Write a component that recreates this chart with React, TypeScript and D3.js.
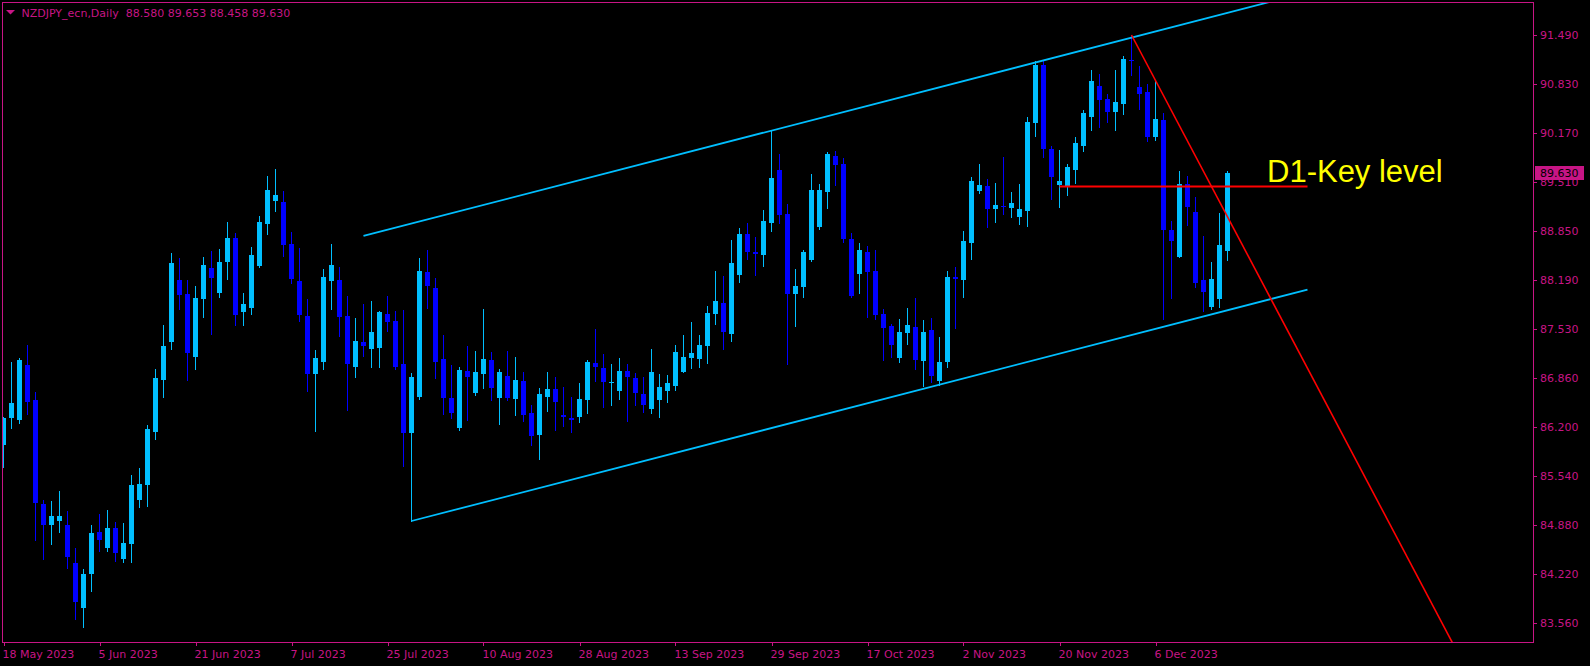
import React from "react";
import * as d3 from "d3";

// ---- DATA (NZDJPY daily, bar index 0 = 18 May 2023) ----
const opens = [85.964,86.332,86.301,87.042,86.570,85.169,84.886,84.939,84.886,84.373,83.767,84.225,84.791,84.576,84.845,84.427,84.629,85.223,85.425,86.139,86.840,87.352,88.188,87.999,87.150,87.932,88.350,88.013,88.431,88.754,87.757,87.815,88.377,88.947,89.257,89.239,88.673,88.174,87.703,86.925,87.087,88.178,88.188,87.703,87.019,87.352,87.262,87.275,87.730,87.635,87.056,86.130,86.611,88.296,88.080,87.123,86.597,86.197,86.961,86.669,86.925,87.110,86.601,86.894,86.588,86.827,86.395,86.103,86.615,86.719,86.368,86.328,86.345,86.574,87.069,87.002,86.804,86.696,86.961,86.867,86.651,86.453,86.574,86.696,86.763,86.952,87.141,87.127,87.302,87.734,87.878,87.464,88.255,88.808,88.565,88.529,88.960,89.671,89.078,88.003,88.094,88.462,88.906,89.378,89.859,89.751,88.741,88.273,88.565,88.309,87.730,87.568,87.141,87.478,87.554,87.100,87.514,86.831,87.087,88.224,88.192,88.691,89.392,89.455,89.149,89.185,89.162,89.041,89.122,90.308,91.086,89.954,89.468,89.459,89.675,89.998,90.389,90.803,90.628,90.456,90.564,91.153,90.789,90.722,90.119,90.345,88.862,88.502,89.482,89.105,88.188,87.828,87.936,88.580];
const highs = [86.345,87.083,87.137,87.312,86.674,85.223,85.209,85.344,85.074,84.576,84.292,84.886,85.034,85.088,84.926,84.913,85.560,85.654,86.233,86.988,87.581,88.552,88.484,88.188,88.107,88.498,88.579,88.606,88.970,88.821,88.013,88.629,89.051,89.590,89.684,89.384,88.835,88.619,87.928,87.244,88.336,88.673,88.363,87.972,87.676,87.864,87.905,87.770,87.972,87.770,87.784,86.934,88.484,88.592,88.215,87.447,87.042,87.015,87.298,87.231,87.797,87.217,86.988,87.231,87.150,86.948,86.507,86.732,86.948,86.880,86.746,86.611,86.800,87.110,87.527,87.190,87.056,87.137,87.056,86.934,86.880,87.258,86.921,86.907,87.312,87.447,87.622,87.447,87.837,88.309,88.242,88.727,88.889,88.956,88.768,89.131,90.196,89.886,89.212,88.336,88.592,89.617,89.482,89.913,89.927,89.832,88.821,88.687,88.646,88.592,87.797,87.595,87.662,87.811,87.945,87.649,87.676,87.420,88.309,88.363,88.848,89.576,89.751,89.549,89.495,89.846,89.374,89.482,90.385,91.140,91.140,89.994,89.940,89.751,90.115,90.479,91.019,90.965,90.695,91.019,91.207,91.490,91.072,90.830,90.870,90.439,88.983,89.657,89.590,89.311,88.781,88.431,89.091,89.653];
const lows = [85.671,86.197,86.264,86.382,84.683,84.427,84.629,84.791,84.306,83.619,83.515,83.996,84.535,84.535,84.400,84.387,84.387,85.128,85.142,86.045,86.611,87.258,87.797,86.840,86.988,87.689,87.460,87.959,88.201,87.581,87.581,87.734,88.363,88.812,89.122,88.515,88.152,87.635,86.696,86.157,86.992,87.801,87.437,86.440,86.885,87.168,87.019,87.019,87.501,86.992,85.685,84.939,86.584,87.811,86.871,86.386,86.332,86.170,86.305,86.642,86.736,86.574,86.251,86.574,86.372,86.291,85.968,85.779,86.426,86.170,86.224,86.143,86.278,86.399,86.831,86.480,86.507,86.588,86.291,86.507,86.413,86.399,86.345,86.548,86.709,86.941,87.006,87.019,87.073,87.599,87.262,87.370,88.165,88.471,88.259,88.381,88.852,88.960,87.060,87.572,87.963,88.444,88.879,89.162,89.468,88.704,87.963,88.017,87.693,87.666,87.114,87.154,87.087,87.329,86.992,86.763,86.817,86.777,87.019,87.545,87.963,88.475,89.365,88.906,88.974,89.082,89.041,88.947,88.920,90.133,89.850,89.284,89.176,89.338,89.499,89.931,90.214,90.254,90.322,90.214,90.429,90.955,90.497,90.061,90.079,87.666,87.949,88.491,88.933,88.098,87.774,87.801,87.828,88.458];
const closes = [86.332,86.530,87.110,86.548,85.178,84.886,85.007,85.007,84.454,83.848,84.225,84.778,84.683,84.845,84.508,84.643,85.425,85.438,86.180,86.867,87.298,88.417,87.986,87.204,87.945,88.390,88.215,88.431,88.754,87.716,87.864,88.525,88.970,89.401,89.334,88.660,88.201,87.716,86.925,87.137,88.228,88.390,87.693,87.060,87.366,87.302,87.487,87.757,87.626,87.019,86.130,86.880,88.309,88.111,87.087,86.601,86.395,86.975,86.880,86.948,87.123,86.736,86.948,86.601,86.840,86.372,86.089,86.651,86.719,86.548,86.345,86.305,86.584,87.083,87.015,86.817,86.813,86.961,86.885,86.669,86.507,86.948,86.746,86.800,87.217,87.150,87.204,87.312,87.743,87.905,87.491,88.417,88.808,88.569,88.542,88.983,89.563,89.068,88.003,88.107,88.565,89.401,89.401,89.886,89.738,88.745,87.976,88.592,88.300,87.720,87.545,87.316,87.487,87.581,87.114,87.487,86.898,87.083,88.228,88.201,88.714,89.522,89.468,89.149,89.199,89.168,89.226,89.145,90.318,91.086,89.958,89.580,89.522,89.715,90.035,90.439,90.870,90.618,90.456,90.587,91.167,91.144,90.699,90.115,90.358,88.866,88.718,89.482,89.176,88.152,88.030,88.205,88.660,89.630];

const priceTicks = [91.49, 90.83, 90.17, 89.51, 88.85, 88.19, 87.53, 86.86, 86.2, 85.54, 84.88, 84.22, 83.56];
const dateTickBars = [0, 12, 24, 36, 48, 60, 72, 84, 96, 108, 120, 132, 144];
const dateTickLabels = ["18 May 2023", "5 Jun 2023", "21 Jun 2023", "7 Jul 2023", "25 Jul 2023", "10 Aug 2023", "28 Aug 2023", "13 Sep 2023", "29 Sep 2023", "17 Oct 2023", "2 Nov 2023", "20 Nov 2023", "6 Dec 2023"];

const channelUpper = [[45, 88.781], [163, 92.067]];
const channelLower = [[51, 84.939], [163, 88.058]];
const trendDown = [[141, 91.49], [185, 82.505]];
const keyLevel = { from: 132, to: 163, price: 89.448 };
const headerText = "NZDJPY_ecn,Daily  88.580 89.653 88.458 89.630";
const lastPrice = 89.63;

const W = 1590, H = 666;
const PL = 2.5, PT = 2.5, PR = 1533.5, PB = 642.5;
const AXIS = "#C71585";
const BULL = "#00BFFF";
const BEAR = "#0000FF";
const FONT = "'DejaVu Sans', Verdana, sans-serif";

export default function App() {
  const x = d3.scaleLinear().domain([0, 100]).range([3.5, 803.5]);
  const y = d3.scaleLinear().domain([83.56, 91.49]).range([623.3, 35]);
  const line = d3.line<number[]>().x((d) => x(d[0])).y((d) => y(d[1]));

  React.useEffect(() => {
    document.body.style.margin = "0";
    document.body.style.background = "#000";
  }, []);

  return (
    <svg width={W} height={H} style={{ position: "absolute", left: 0, top: 0, background: "#000", display: "block" }}>
      <defs>
        <clipPath id="plot">
          <rect x={PL} y={PT} width={PR - PL} height={PB - PT} />
        </clipPath>
      </defs>
      <rect x={0} y={0} width={W} height={H} fill="#000" />
      <g clipPath="url(#plot)">
        {opens.map((o, i) => {
          const c = closes[i];
          const bull = c >= o;
          const col = bull ? BULL : BEAR;
          const cx = Math.round(x(i) - 0.5) + 0.5;
          const yTop = Math.round(y(Math.max(o, c)));
          const yBot = Math.round(y(Math.min(o, c)));
          const hgt = Math.max(1, yBot - yTop);
          return (
            <g key={i}>
              <line x1={cx} x2={cx} y1={Math.round(y(highs[i]))} y2={Math.round(y(lows[i])) + 1} stroke={col} strokeWidth={1} />
              <rect x={cx - 2.5} y={yTop} width={5} height={hgt} fill={col} />
            </g>
          );
        })}
        <path d={line(channelUpper as any) || ""} stroke={BULL} strokeWidth={1.8} fill="none" />
        <path d={line(channelLower as any) || ""} stroke={BULL} strokeWidth={1.8} fill="none" />
        <path d={line(trendDown as any) || ""} stroke="#FF0000" strokeWidth={1.6} fill="none" />
        <line x1={x(keyLevel.from)} x2={x(keyLevel.to)} y1={y(keyLevel.price)} y2={y(keyLevel.price)} stroke="#FF0000" strokeWidth={2} />
      </g>
      <text x={1267} y={181.5} fill="#FFFF00" fontFamily="'Liberation Sans', Arial, sans-serif" fontSize={31}>D1-Key level</text>

      {/* border */}
      <rect x={PL} y={PT} width={PR - PL} height={PB - PT} fill="none" stroke={AXIS} strokeWidth={1} />

      {/* header */}
      <path d="M6,10 L15,10 L10.5,14.5 Z" fill={AXIS} />
      <text x={21.5} y={16.5} fill={AXIS} fontFamily={FONT} fontSize={11}>{headerText.replace(/ /g, "\u00a0")}</text>

      {/* price axis */}
      {priceTicks.map((p) => (
        <g key={p}>
          <line x1={PR} x2={PR + 3.5} y1={Math.round(y(p)) + 0.5} y2={Math.round(y(p)) + 0.5} stroke={AXIS} />
          <text x={1540} y={y(p) + 4} fill={AXIS} fontFamily={FONT} fontSize={11}>{d3.format(".3f")(p)}</text>
        </g>
      ))}
      <rect x={1535} y={166} width={49} height={14} fill={AXIS} />
      <text x={1540} y={y(lastPrice) + 4} fill="#000" fontFamily={FONT} fontSize={11}>{d3.format(".3f")(lastPrice)}</text>

      {/* date axis */}
      {dateTickBars.map((b, k) => (
        <g key={b}>
          <line x1={Math.round(x(b)) + 0.5} x2={Math.round(x(b)) + 0.5} y1={PB} y2={PB + 3.5} stroke={AXIS} />
          <text x={x(b) - 1} y={658} fill={AXIS} fontFamily={FONT} fontSize={11}>{dateTickLabels[k]}</text>
        </g>
      ))}
    </svg>
  );
}
